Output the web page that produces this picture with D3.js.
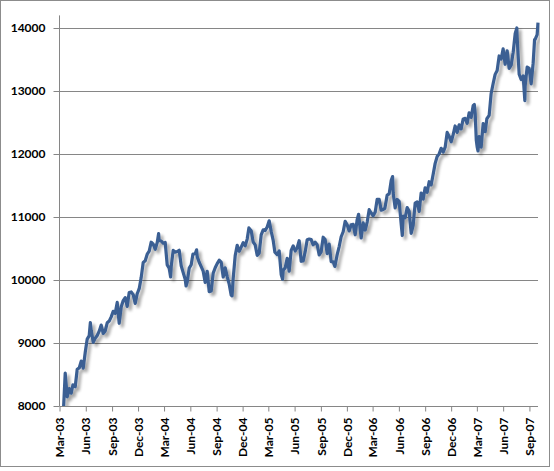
<!DOCTYPE html>
<html>
<head>
<meta charset="utf-8">
<script src="https://cdn.jsdelivr.net/npm/d3@7"></script>
<style>
  body { margin: 0; background: #fff; }
  svg { display: block; }
  .tick text { font-family: Lato, "Open Sans", sans-serif; font-weight: bold; font-size: 12px; fill: #000; }
</style>
</head>
<body>
<div id="chart"></div>
<script>
(function () {
    // weekly closes (approx.), Mar 2003 - Oct 2007
    var dates = [
        "2003-03-03","2003-03-07","2003-03-11","2003-03-14","2003-03-21","2003-03-28","2003-04-04","2003-04-11","2003-04-17","2003-04-25",
        "2003-05-02","2003-05-09","2003-05-16","2003-05-23","2003-05-30","2003-06-06","2003-06-13","2003-06-17","2003-06-20","2003-06-27",
        "2003-07-03","2003-07-11","2003-07-18","2003-07-25","2003-08-01","2003-08-08","2003-08-15","2003-08-22","2003-08-29","2003-09-05",
        "2003-09-12","2003-09-19","2003-09-26","2003-10-03","2003-10-10","2003-10-17","2003-10-24","2003-10-31","2003-11-07","2003-11-14",
        "2003-11-21","2003-11-28","2003-12-05","2003-12-12","2003-12-19","2003-12-26",
        "2004-01-02","2004-01-09","2004-01-16","2004-01-23","2004-01-30","2004-02-06","2004-02-11","2004-02-13","2004-02-20","2004-02-27",
        "2004-03-05","2004-03-12","2004-03-19","2004-03-24","2004-03-26","2004-04-02","2004-04-08","2004-04-16","2004-04-23","2004-04-30",
        "2004-05-07","2004-05-14","2004-05-17","2004-05-21","2004-05-28","2004-06-04","2004-06-10","2004-06-18","2004-06-23","2004-06-25",
        "2004-07-02","2004-07-09","2004-07-16","2004-07-23","2004-07-30","2004-08-06","2004-08-13","2004-08-20","2004-08-27","2004-09-03",
        "2004-09-10","2004-09-17","2004-09-24","2004-10-01","2004-10-08","2004-10-15","2004-10-22","2004-10-25","2004-10-29","2004-11-05",
        "2004-11-12","2004-11-19","2004-11-26","2004-12-03","2004-12-10","2004-12-17","2004-12-23","2004-12-31",
        "2005-01-07","2005-01-14","2005-01-21","2005-01-28","2005-02-04","2005-02-11","2005-02-18","2005-02-25","2005-03-04","2005-03-11",
        "2005-03-18","2005-03-24","2005-04-01","2005-04-08","2005-04-15","2005-04-20","2005-04-22","2005-04-29","2005-05-06","2005-05-13",
        "2005-05-20","2005-05-27","2005-06-03","2005-06-10","2005-06-17","2005-06-24","2005-07-01","2005-07-08","2005-07-15","2005-07-22",
        "2005-07-29","2005-08-05","2005-08-12","2005-08-19","2005-08-26","2005-09-02","2005-09-09","2005-09-16","2005-09-23","2005-09-30",
        "2005-10-07","2005-10-14","2005-10-20","2005-10-28","2005-11-04","2005-11-11","2005-11-18","2005-11-25","2005-12-02","2005-12-09",
        "2005-12-16","2005-12-23","2005-12-30",
        "2006-01-06","2006-01-11","2006-01-13","2006-01-20","2006-01-27","2006-02-03","2006-02-10","2006-02-17","2006-02-24","2006-03-03",
        "2006-03-10","2006-03-17","2006-03-24","2006-03-31","2006-04-07","2006-04-13","2006-04-21","2006-04-28","2006-05-05","2006-05-10",
        "2006-05-12","2006-05-19","2006-05-26","2006-06-02","2006-06-09","2006-06-13","2006-06-16","2006-06-23","2006-06-30","2006-07-07",
        "2006-07-14","2006-07-21","2006-07-28","2006-08-04","2006-08-11","2006-08-18","2006-08-25","2006-09-01","2006-09-08","2006-09-15",
        "2006-09-22","2006-09-29","2006-10-06","2006-10-13","2006-10-20","2006-10-27","2006-11-03","2006-11-10","2006-11-17","2006-11-24",
        "2006-12-01","2006-12-08","2006-12-15","2006-12-22","2006-12-29",
        "2007-01-05","2007-01-12","2007-01-19","2007-01-26","2007-02-02","2007-02-09","2007-02-16","2007-02-20","2007-02-23","2007-02-27",
        "2007-03-02","2007-03-05","2007-03-09","2007-03-16","2007-03-23","2007-03-30","2007-04-05","2007-04-13","2007-04-20","2007-04-27",
        "2007-05-04","2007-05-11","2007-05-18","2007-05-25","2007-06-01","2007-06-08","2007-06-15","2007-06-22","2007-06-29","2007-07-06",
        "2007-07-13","2007-07-19","2007-07-20","2007-07-27","2007-08-03","2007-08-10","2007-08-16","2007-08-17","2007-08-24","2007-08-31",
        "2007-09-07","2007-09-14","2007-09-19","2007-09-21","2007-09-28","2007-10-01"
    ];
    var closes = [
        7837, 7740, 7524, 7859, 8522, 8145, 8277, 8203, 8337, 8306,
        8583, 8604, 8713, 8601, 8850, 9062, 9117, 9323, 9201, 9011,
        9070, 9119, 9188, 9284, 9153, 9191, 9321, 9348, 9415, 9503,
        9472, 9644, 9313, 9572, 9674, 9721, 9582, 9801, 9810, 9768,
        9628, 9782, 9862, 10042, 10278, 10305,
        10409, 10458, 10600, 10568, 10488, 10593, 10737, 10628, 10620, 10584,
        10595, 10240, 10186, 10048, 10213, 10470, 10442, 10452, 10472, 10226,
        10117, 10012, 9906, 9967, 10188, 10242, 10410, 10416, 10479, 10371,
        10282, 10213, 10140, 9962, 10139, 9815, 9825, 10110, 10195, 10260,
        10314, 10284, 10047, 10192, 10055, 9933, 9758, 9749, 10027, 10387,
        10550, 10456, 10522, 10592, 10543, 10649, 10827, 10783,
        10603, 10558, 10392, 10427, 10716, 10796, 10785, 10841, 10940, 10774,
        10629, 10442, 10404, 10461, 10088, 10013, 10157, 10193, 10345, 10140,
        10471, 10542, 10460, 10512, 10623, 10297, 10303, 10449, 10640, 10651,
        10641, 10558, 10600, 10559, 10397, 10447, 10679, 10641, 10419, 10569,
        10292, 10287, 10215, 10403, 10531, 10686, 10766, 10932, 10878, 10779,
        10876, 10883, 10718,
        10959, 11043, 10960, 10667, 10907, 10793, 10920, 11116, 11062, 11021,
        11077, 11280, 11280, 11109, 11120, 11138, 11347, 11367, 11577, 11642,
        11380, 11144, 11278, 11248, 10891, 10706, 11015, 10989, 11150, 11091,
        10739, 10868, 11220, 11240, 11089, 11381, 11284, 11464, 11392, 11560,
        11508, 11679, 11851, 11960, 12002, 12090, 12030, 12108, 12342, 12280,
        12194, 12307, 12445, 12343, 12463,
        12398, 12556, 12565, 12487, 12653, 12580, 12767, 12786, 12647, 12216,
        12114, 12050, 12276, 12110, 12481, 12354, 12560, 12612, 12961, 13120,
        13264, 13326, 13556, 13507, 13668, 13424, 13639, 13360, 13409, 13611,
        13908, 14000, 13851, 13266, 13182, 13239, 12846, 13079, 13379, 13358,
        13113, 13442, 13815, 13821, 13896, 14087
    ];
    var yTicks = [8000, 9000, 10000, 11000, 12000, 13000, 14000];
    var xTickDates = [
        "2003-03-01","2003-06-01","2003-09-01","2003-12-01","2004-03-01","2004-06-01","2004-09-01","2004-12-01","2005-03-01",
        "2005-06-01","2005-09-01","2005-12-01","2006-03-01","2006-06-01","2006-09-01","2006-12-01","2007-03-01","2007-06-01","2007-09-01"
    ];

    var width = 554, height = 471;
    var left = 59.5, right = 538, top = 15.4, bottom = 406;

    var parse = d3.timeParse("%Y-%m-%d");
    var data = dates.map(function (d, i) { return { date: parse(d), value: closes[i] }; });

    var x = d3.scaleTime()
        .domain([parse("2003-03-01"), parse("2007-10-01")])
        .range([left, right]);
    var y = d3.scaleLinear()
        .domain([8000, 14200])
        .range([bottom, top]);

    var svg = d3.select("#chart").append("svg")
        .attr("width", width)
        .attr("height", height);

    // outer border
    svg.append("rect")
        .attr("x", 0.5).attr("y", 0.5)
        .attr("width", 549).attr("height", 466)
        .attr("fill", "#fff")
        .attr("stroke", "#8c8c8c");

    var defs = svg.append("defs");
    defs.append("clipPath").attr("id", "plot-clip")
        .append("rect")
        .attr("x", left).attr("y", top - 8)
        .attr("width", right - left + 2).attr("height", bottom - top + 8);

    var shadow = defs.append("filter").attr("id", "shadow")
        .attr("x", "-5%").attr("y", "-5%").attr("width", "110%").attr("height", "110%");
    shadow.append("feGaussianBlur").attr("in", "SourceAlpha").attr("stdDeviation", 1.6).attr("result", "blur");
    shadow.append("feOffset").attr("in", "blur").attr("dx", 2.5).attr("dy", 3).attr("result", "off");
    shadow.append("feComponentTransfer").attr("in", "off").attr("result", "soft")
        .append("feFuncA").attr("type", "linear").attr("slope", 0.35);
    var merge = shadow.append("feMerge");
    merge.append("feMergeNode").attr("in", "soft");
    merge.append("feMergeNode").attr("in", "SourceGraphic");

    // gridlines
    svg.append("g")
        .selectAll("line")
        .data(yTicks.slice(1))
        .enter().append("line")
        .attr("x1", left).attr("x2", right)
        .attr("y1", function (d) { return Math.round(y(d)) + 0.5; })
        .attr("y2", function (d) { return Math.round(y(d)) + 0.5; })
        .attr("stroke", "#868686")
        .attr("stroke-width", 1);

    // y axis
    var yAxis = d3.axisLeft(y)
        .tickValues(yTicks)
        .tickSize(6)
        .tickPadding(8)
        .tickFormat(d3.format("d"));
    var gy = svg.append("g")
        .attr("transform", "translate(" + left + ",0)")
        .call(yAxis);
    gy.select(".domain").attr("stroke", "#868686").attr("d", "M0," + top + "V" + bottom);
    gy.selectAll(".tick line").attr("stroke", "#868686");

    // x axis
    var xAxis = d3.axisBottom(x)
        .tickValues(xTickDates.map(parse))
        .tickSize(5)
        .tickFormat(d3.timeFormat("%b-%y"));
    var gx = svg.append("g")
        .attr("transform", "translate(0," + (Math.round(bottom) + 0.5) + ")")
        .call(xAxis);
    gx.select(".domain").attr("stroke", "#868686").attr("d", "M" + left + ",0H" + right);
    gx.selectAll(".tick line").attr("stroke", "#868686");
    gx.selectAll(".tick text")
        .attr("transform", "rotate(-90)")
        .attr("text-anchor", "end")
        .attr("x", -11)
        .attr("y", 0)
        .attr("dy", "0.35em");

    // the series
    var line = d3.line()
        .x(function (d) { return x(d.date); })
        .y(function (d) { return y(d.value); });

    svg.append("g")
        .attr("clip-path", "url(#plot-clip)")
        .append("path")
        .datum(data)
        .attr("d", line)
        .attr("fill", "none")
        .attr("stroke", "#3a5f93")
        .attr("stroke-width", 3.2)
        .attr("stroke-linejoin", "round")
        .attr("filter", "url(#shadow)");
})();
</script>
</body>
</html>
